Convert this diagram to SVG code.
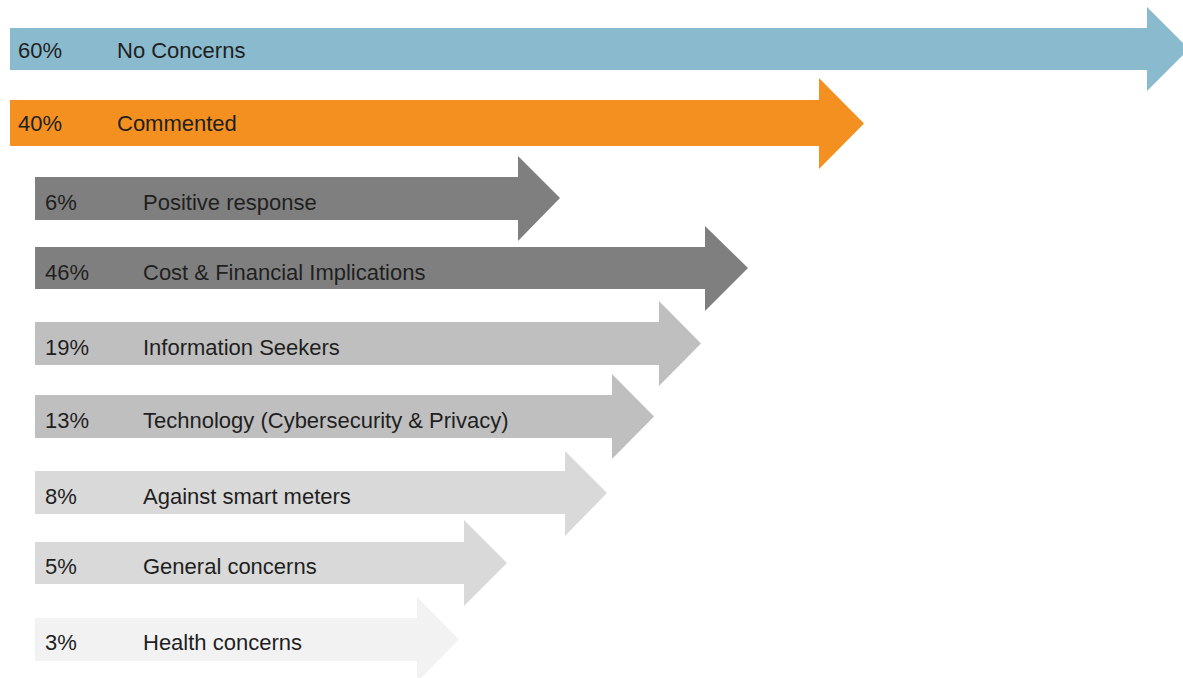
<svg xmlns="http://www.w3.org/2000/svg" width="1183" height="678" viewBox="0 0 1183 678">
<style>
text{font-family:"Liberation Sans",Arial,sans-serif;font-size:22px;fill:#1f1f1f}
.blue{fill:#8abace}
.orange{fill:#f3901f}
.dark{fill:#7f7f7f}
.mid{fill:#bfbfbf}
.light{fill:#d9d9d9}
.lightest{fill:#f2f2f2}
</style>
<rect width="1183" height="678" fill="#ffffff"/>
<g id="arrow-no-concerns">
<polygon class="blue" points="10,28 1147,28 1147,7 1189,49 1147,91 1147,70 10,70"/>
<text x="18" y="58">60%</text><text x="117" y="58">No Concerns</text>
</g>
<g id="arrow-commented">
<polygon class="orange" points="10,100 819,100 819,78 864,123.5 819,169 819,146 10,146"/>
<text x="18" y="131">40%</text><text x="117" y="131">Commented</text>
</g>
<g id="arrow-positive">
<polygon class="dark" points="35,177 518,177 518,156 560,198 518,241 518,220 35,220"/>
<text x="45" y="210">6%</text><text x="143" y="210">Positive response</text>
</g>
<g id="arrow-cost">
<polygon class="dark" points="35,247 705,247 705,226 748,268 705,311 705,289 35,289"/>
<text x="45" y="280">46%</text><text x="143" y="280">Cost &amp; Financial Implications</text>
</g>
<g id="arrow-information">
<polygon class="mid" points="35,322 659,322 659,301 701,343.5 659,386 659,365 35,365"/>
<text x="45" y="355">19%</text><text x="143" y="355">Information Seekers</text>
</g>
<g id="arrow-technology">
<polygon class="mid" points="35,395 612,395 612,374 654,416.5 612,459 612,438 35,438"/>
<text x="45" y="428">13%</text><text x="143" y="428">Technology (Cybersecurity &amp; Privacy)</text>
</g>
<g id="arrow-against">
<polygon class="light" points="35,471 565,471 565,451 607,493 565,536 565,514 35,514"/>
<text x="45" y="504">8%</text><text x="143" y="504">Against smart meters</text>
</g>
<g id="arrow-general">
<polygon class="light" points="35,542 464,542 464,520 507,563 464,606 464,584 35,584"/>
<text x="45" y="574">5%</text><text x="143" y="574">General concerns</text>
</g>
<g id="arrow-health">
<polygon class="lightest" points="35,618 417,618 417,597 459,639.5 417,682 417,661 35,661"/>
<text x="45" y="650">3%</text><text x="143" y="650">Health concerns</text>
</g>
<g id="connectors"/>
</svg>
